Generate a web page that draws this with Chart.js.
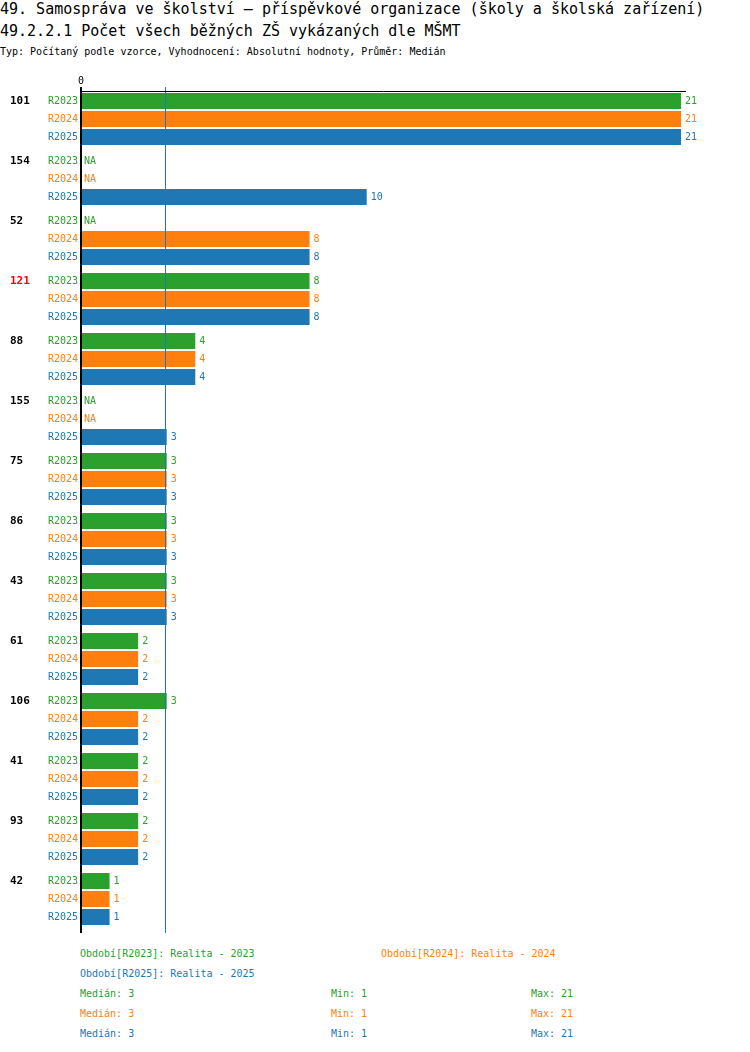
<!DOCTYPE html>
<html><head><meta charset="utf-8">
<script src="https://cdn.jsdelivr.net/npm/chart.js@4"></script>
<style>
body{margin:0;background:#fff;font-family:"DejaVu Sans Mono",monospace;}
.t{position:absolute;white-space:nowrap;color:#000;}
#wrap{position:absolute;left:0;top:0;width:750px;height:940px;}
</style></head><body>
<div class="t" style="left:0;top:0;font-size:15px;line-height:18px">49. Samospráva ve školství – příspěvkové organizace (školy a školská zařízení)</div>
<div class="t" style="left:0;top:21px;font-size:15px;line-height:20px">49.2.2.1 Počet všech běžných ZŠ vykázaných dle MŠMT</div>
<div class="t" style="left:0;top:44px;font-size:10px;line-height:16px">Typ: Počítaný podle vzorce, Vyhodnocení: Absolutní hodnoty, Průměr: Medián</div>
<div id="wrap"><canvas id="c"></canvas></div>
<div id="legend"></div>
<script>
const groups = ["101","154","52","121","88","155","75","86","43","61","106","41","93","42"];
const highlighted = ["121"];
const seriesNames = ["R2023","R2024","R2025"];
const seriesDesc = ["Realita - 2023","Realita - 2024","Realita - 2025"];
const r2023 = [21,null,null,8,4,null,3,3,3,2,3,2,2,1];
const r2024 = [21,null,8,8,4,null,3,3,3,2,2,2,2,1];
const r2025 = [21,10,8,8,4,3,3,3,3,2,2,2,2,1];
const colors = ["#2ca02c","#ff7f0e","#1f77b4"];
const medians = [3,3,3];
const mins = [1,1,1];
const maxs = [21,21,21];
const xTicks = [0];
const xMax = 21;

const all = [r2023,r2024,r2025];
const FONT = '"DejaVu Sans Mono", monospace';

const overlay = {
  id:'overlay',
  afterDatasetsDraw(chart){
    const {ctx, chartArea:a, scales:{x,y}} = chart;
    ctx.save();
    const x0 = x.getPixelForValue(0);
    // median line (drawn over bars)
    ctx.strokeStyle = colors[2];
    ctx.lineWidth = 1;
    const mx = Math.floor(x.getPixelForValue(medians[2])) - 0.5;
    ctx.beginPath(); ctx.moveTo(mx, a.top-2); ctx.lineTo(mx, a.bottom+4); ctx.stroke();
    // top horizontal line
    ctx.strokeStyle = '#000'; ctx.lineWidth = 1;
    ctx.beginPath(); ctx.moveTo(x0, a.top+2.5); ctx.lineTo(x.getPixelForValue(xMax)+5, a.top+2.5); ctx.stroke();
    // axis line
    ctx.lineWidth = 2;
    ctx.beginPath(); ctx.moveTo(x0, a.top-2); ctx.lineTo(x0, a.bottom+4); ctx.stroke();
    // tick labels
    ctx.fillStyle = '#000'; ctx.font = '10px '+FONT; ctx.textAlign='center'; ctx.textBaseline='middle';
    xTicks.forEach(t=>ctx.fillText(String(t), x.getPixelForValue(t), a.top-8));
    const band = (a.bottom - a.top)/groups.length;
    const slot = band*0.9/3;
    groups.forEach((g,i)=>{
      const cy = y.getPixelForValue(i);
      ctx.font = 'bold 11px '+FONT; ctx.textAlign='left';
      ctx.fillStyle = highlighted.includes(g) ? '#ff0000' : '#000';
      ctx.fillText(g, 10, cy-slot);
      for(let d=0; d<3; d++){
        const ry = cy + (d-1)*slot;
        ctx.font = '10px '+FONT;
        ctx.fillStyle = colors[d];
        ctx.textAlign='right';
        ctx.fillText(seriesNames[d], x0-3, ry);
        ctx.textAlign='left';
        const v = all[d][i];
        if(v===null){ ctx.fillText('NA', x0+3, ry); }
        else { ctx.fillText(String(v), x.getPixelForValue(v)+4, ry); }
      }
    });
    ctx.restore();
  }
};

new Chart(document.getElementById('c'), {
  type:'bar',
  data:{
    labels: groups,
    datasets: seriesNames.map((n,d)=>({
      label:n, data: all[d], backgroundColor: colors[d], borderWidth:0,
      categoryPercentage:0.9, barPercentage:16/18
    }))
  },
  options:{
    indexAxis:'y', responsive:true, maintainAspectRatio:false, animation:false,
    layout:{padding:{left:81,right:69,top:89,bottom:11}},
    plugins:{legend:{display:false}, tooltip:{enabled:false}},
    scales:{
      x:{display:false, min:0, max:xMax},
      y:{display:false}
    }
  },
  plugins:[overlay]
});

// legend / stats as real text
const L = document.getElementById('legend');
function add(txt, left, cy, color){
  const d = document.createElement('div');
  d.className='t'; d.textContent = txt;
  d.style.cssText = `left:${left}px;top:${cy-7}px;font-size:10px;line-height:14px;color:${color}`;
  L.appendChild(d);
}
add(`Období[${seriesNames[0]}]: ${seriesDesc[0]}`, 80, 954, colors[0]);
add(`Období[${seriesNames[1]}]: ${seriesDesc[1]}`, 381, 954, colors[1]);
add(`Období[${seriesNames[2]}]: ${seriesDesc[2]}`, 80, 974, colors[2]);
for(let d=0; d<3; d++){
  const cy = 994 + d*20;
  add(`Medián: ${medians[d]}`, 80, cy, colors[d]);
  add(`Min: ${mins[d]}`, 331, cy, colors[d]);
  add(`Max: ${maxs[d]}`, 531, cy, colors[d]);
}
</script>
</body></html>
